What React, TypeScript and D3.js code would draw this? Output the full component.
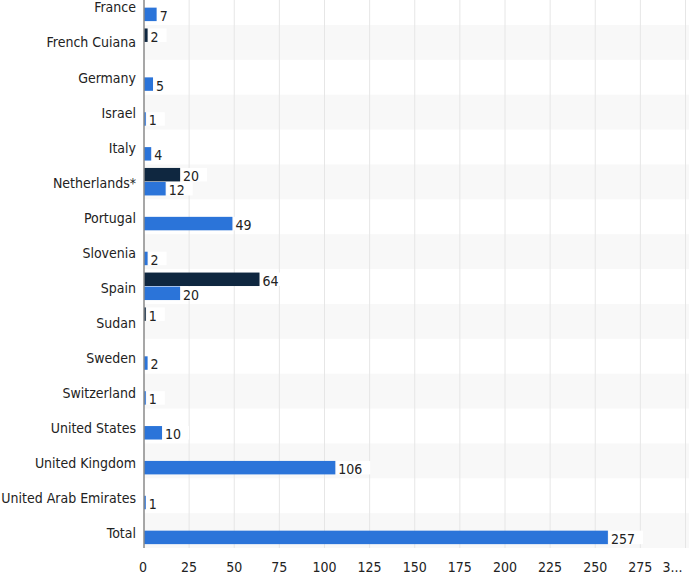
import React from "react";
import * as d3 from "d3";

const categories = [
  "France", "French Cuiana", "Germany", "Israel", "Italy", "Netherlands*",
  "Portugal", "Slovenia", "Spain", "Sudan", "Sweden", "Switzerland",
  "United States", "United Kingdom", "United Arab Emirates", "Total",
];
const seriesNames = ["series1", "series2"];
const series1 = [0, 2, 0, 0, 0, 20, 0, 0, 64, 1, 0, 0, 0, 0, 0, 0];
const series2 = [7, 0, 5, 1, 4, 12, 49, 2, 20, 0, 2, 1, 10, 106, 1, 257];
const xTicks = [0, 25, 50, 75, 100, 125, 150, 175, 200, 225, 250, 275, 300];
const xTickLabels = ["0", "25", "50", "75", "100", "125", "150", "175", "200", "225", "250", "275", "3..."];
const colors = ["#0f2740", "#2b74d9"];

const W = 689;
const H = 575;
const FONT = "'DejaVu Sans Condensed', 'DejaVu Sans', Verdana, sans-serif";

export default function App() {
  const x = d3.scaleLinear().domain([0, 300]).range([144, 685.5]);
  const y = d3.scaleBand<string>().domain(categories).range([-9.9, 548]).padding(0);
  const yLabel = d3.scaleBand<string>().domain(categories).range([-10, 551]).padding(0);
  const bw = y.bandwidth();
  const ySub = d3.scaleBand<string>().domain(seriesNames).range([3.5, 31]).paddingInner(0.04);
  const plotTop = 0;
  const plotBottom = 548;
  const data = [series1, series2];
  const charW = 8;
  const fs = 14;

  return (
    <svg
      width={W}
      height={H}
      style={{ position: "absolute", left: 0, top: 0, background: "#fff", fontStretch: "condensed" }}
      fontFamily={FONT}
    >
      {categories.map((c, i) =>
        i % 2 === 1 ? (
          <rect key={"band" + c} x={x(0)} y={y(c)} width={W - x(0)} height={bw} fill="#f8f8f8" />
        ) : null
      )}
      {xTicks.slice(1).map((t) => (
        <line key={"g" + t} x1={x(t)} x2={x(t)} y1={plotTop} y2={plotBottom} stroke="#e6e6e6" strokeWidth={1} />
      ))}
      {categories.map((c, i) =>
        data.map((vals, s) => {
          const v = vals[i];
          if (!v) return null;
          const by = (y(c) as number) + (ySub(seriesNames[s]) as number);
          const h = ySub.bandwidth();
          const x1 = x(v);
          const label = String(v);
          const tw = label.length * charW;
          return (
            <g key={c + s}>
              <rect x={x(0)} y={by} width={x1 - x(0)} height={h} fill={colors[s]} />
              <rect x={x1 + 1} y={by} width={tw + 10} height={h} fill="#fff" />
              <text x={x1 + 3} y={by + h / 2 + 1.5} dy="0.35em" fontSize={fs} fill="#222">
                {label}
              </text>
            </g>
          );
        })
      )}
      <line x1={x(0)} x2={x(0)} y1={plotTop} y2={plotBottom} stroke="#8a8a8a" strokeWidth={1.5} />
      {categories.map((c) => (
        <text
          key={"l" + c}
          x={136}
          y={(yLabel(c) as number) + yLabel.bandwidth() / 2}
          dy="0.35em"
          textAnchor="end"
          fontSize={fs}
          fill="#222"
        >
          {c}
        </text>
      ))}
      {xTicks.map((t, i) => (
        <text
          key={"t" + t}
          x={i === xTicks.length - 1 ? x(t) - 13 : x(t) - (t === 0 ? 1 : 0)}
          y={567}
          dy="0.35em"
          textAnchor="middle"
          fontSize={fs}
          fill="#222"
        >
          {xTickLabels[i]}
        </text>
      ))}
    </svg>
  );
}
